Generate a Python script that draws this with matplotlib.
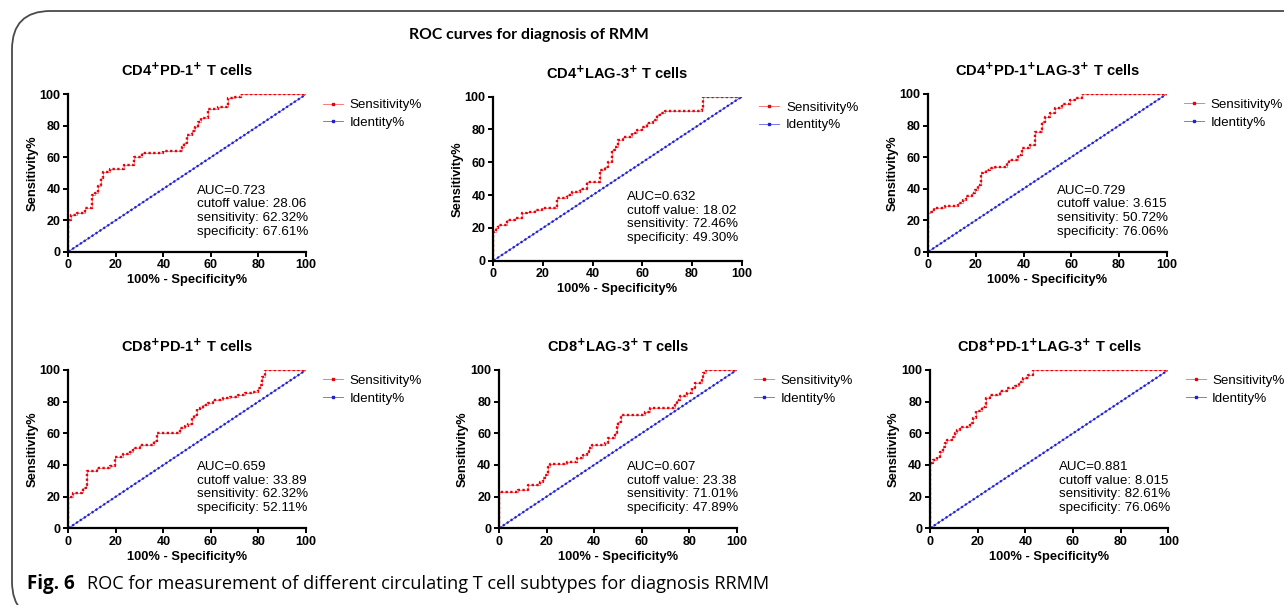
import matplotlib
matplotlib.use("Agg")
import matplotlib.pyplot as plt
from matplotlib.lines import Line2D
from matplotlib.patches import FancyBboxPatch

plt.rcParams["font.family"] = ["Liberation Sans", "DejaVu Sans"]

W, H = 1284, 605

# ---- data ----
titles = [
    "CD4$^{\\mathbf{+}}$PD-1$^{\\mathbf{+}}$ T cells",
    "CD4$^{\\mathbf{+}}$LAG-3$^{\\mathbf{+}}$ T cells",
    "CD4$^{\\mathbf{+}}$PD-1$^{\\mathbf{+}}$LAG-3$^{\\mathbf{+}}$ T cells",
    "CD8$^{\\mathbf{+}}$PD-1$^{\\mathbf{+}}$ T cells",
    "CD8$^{\\mathbf{+}}$LAG-3$^{\\mathbf{+}}$ T cells",
    "CD8$^{\\mathbf{+}}$PD-1$^{\\mathbf{+}}$LAG-3$^{\\mathbf{+}}$ T cells",
]
auc = ["0.723", "0.632", "0.729", "0.659", "0.607", "0.881"]
cutoff = ["28.06", "18.02", "3.615", "33.89", "23.38", "8.015"]
sens = ["62.32%", "72.46%", "50.72%", "62.32%", "71.01%", "82.61%"]
spec = ["67.61%", "49.30%", "76.06%", "52.11%", "47.89%", "76.06%"]

# ROC staircase vertices (100% - specificity, sensitivity), steps-post
cd4_pd1_x = [0, 0, 1.0, 3.8, 7.0, 9.8, 11.2, 12.6, 13.7, 14.7, 17.5, 23.4, 27.6, 30.9,
             40.0, 47.7, 48.5, 50.0, 52.0, 53.3, 54.7, 56.0, 58.9, 63.0, 67.3, 70.0, 72.5, 100]
cd4_pd1_y = [0, 20.0, 23.3, 24.4, 27.5, 36.0, 37.5, 41.7, 46.6, 50.8, 52.3, 55.0, 60.0, 62.5,
             64.2, 66.7, 68.9, 74.0, 77.0, 79.4, 82.6, 84.7, 90.5, 91.7, 97.5, 98.5, 100, 100]

cd4_lag3_x = [0, 0, 0.9, 2.0, 5.4, 8.7, 11.4, 13.4, 16.8, 19.5, 25.5, 29.5, 31.5, 35.0, 37.6,
              43.0, 45.0, 46.3, 47.7, 49.0, 50.3, 52.3, 55.7, 57.7, 59.7, 61.7, 64.4, 65.8,
              67.0, 69.0, 84.0, 84.6, 100]
cd4_lag3_y = [0, 17.7, 19.7, 22.0, 24.8, 26.0, 28.9, 29.9, 30.9, 32.3, 38.0, 40.0, 42.0, 44.0,
              48.2, 55.3, 57.3, 60.4, 67.5, 69.5, 73.6, 75.6, 77.6, 79.7, 81.7, 83.7, 85.8,
              88.8, 90.0, 91.3, 93.0, 100, 100]

cd4_pd1_lag3_x = [0, 0, 0.7, 1.4, 2.4, 7.0, 12.6, 14.7, 15.8, 18.2, 19.6, 21.0, 22.0, 23.0,
                  24.2, 25.9, 28.0, 32.9, 33.8, 37.8, 39.2, 42.7, 44.8, 47.6, 49.0, 51.0,
                  53.1, 55.9, 59.4, 61.5, 64.3, 100]
cd4_pd1_lag3_y = [0, 24.3, 25.4, 26.4, 27.5, 29.2, 30.7, 32.8, 35.3, 37.0, 39.1, 42.3, 49.7,
                  50.7, 51.8, 52.9, 53.9, 57.1, 58.1, 61.3, 65.5, 67.7, 76.1, 82.5, 85.6, 87.7,
                  90.9, 93.4, 96.2, 97.3, 100, 100]

cd8_pd1_x = [0, 0, 2.1, 5.6, 6.3, 7.4, 8.0, 11.9, 17.5, 19.6, 23.1, 25.9, 27.3, 30.2, 36.0,
             37.2, 47.0, 49.1, 50.5, 51.9, 53.0, 54.0, 55.4, 56.8, 58.9, 61.0, 65.2, 68.0,
             71.5, 74.3, 77.8, 80.0, 80.6, 81.3, 82.7, 100]
cd8_pd1_y = [0, 20.0, 22.1, 23.2, 25.3, 27.4, 36.4, 37.9, 39.4, 45.3, 46.7, 48.2, 50.9, 52.4,
             55.4, 60.0, 63.2, 64.6, 65.9, 69.5, 71.6, 75.2, 75.8, 77.9, 79.0, 81.0, 82.1,
             83.2, 84.2, 85.3, 86.3, 88.4, 90.5, 95.8, 100, 100]

cd8_lag3_x = [0, 0, 8.1, 12.3, 17.3, 18.7, 19.4, 20.8, 21.5, 28.5, 32.7, 35.5, 36.9, 38.0,
              39.0, 44.6, 46.0, 48.8, 49.5, 50.2, 51.2, 61.4, 63.5, 74.0, 75.0, 76.2, 79.0,
              81.0, 82.5, 85.3, 86.0, 87.1, 100]
cd8_lag3_y = [0, 23.2, 24.4, 27.4, 29.5, 31.6, 33.7, 38.9, 40.6, 42.1, 44.2, 46.3, 48.4, 50.5,
              52.6, 54.1, 56.8, 60.0, 64.2, 67.4, 71.6, 73.7, 75.8, 78.9, 81.0, 83.6, 85.3,
              88.4, 91.6, 95.8, 97.9, 100, 100]

cd8_pd1_lag3_x = [0, 0, 1.1, 2.8, 4.2, 5.3, 6.3, 7.3, 9.1, 10.5, 11.5, 12.6, 16.8, 18.2, 19.3,
                  21.7, 23.5, 25.2, 29.4, 32.2, 35.7, 37.5, 39.2, 41.3, 43.4, 100]
cd8_pd1_lag3_y = [0, 41.0, 43.2, 45.3, 48.4, 51.6, 53.7, 55.8, 57.9, 60.0, 62.1, 64.2, 66.3,
                  69.5, 74.3, 76.8, 82.1, 84.2, 86.9, 88.4, 89.9, 92.6, 94.7, 96.8, 100, 100]

roc_x = [cd4_pd1_x, cd4_lag3_x, cd4_pd1_lag3_x, cd8_pd1_x, cd8_lag3_x, cd8_pd1_lag3_x]
roc_y = [cd4_pd1_y, cd4_lag3_y, cd4_pd1_lag3_y, cd8_pd1_y, cd8_lag3_y, cd8_pd1_lag3_y]
identity = [0, 100]
ticks = [0, 20, 40, 60, 80, 100]

# axes boxes in pixels: left, right, top, bottom
boxes = [
    (68.3, 306.0, 94.3, 251.7),
    (493.3, 741.7, 96.7, 260.7),
    (928.3, 1166.7, 94.0, 251.7),
    (68.3, 306.0, 370.0, 528.3),
    (499.0, 736.7, 370.0, 528.3),
    (930.0, 1168.3, 370.0, 528.3),
]

fig = plt.figure(figsize=(W / 100, H / 100), dpi=100)

# open rounded frame (bottom/right run off the image)
frame = FancyBboxPatch((12 / W, 1 - 620 / H), 1320 / W, 609 / H,
                       boxstyle="round,pad=0,rounding_size=0.03",
                       transform=fig.transFigure, fill=False,
                       edgecolor="#4a4a4a", linewidth=1.3, mutation_aspect=W / H)
fig.patches.append(frame)

fig.text(529 / W, 1 - 35 / H, "ROC curves for diagnosis of RMM", ha="center", va="center",
         fontsize=11.3, fontweight="bold", family=["Lato", "DejaVu Sans"])

for i, (l, r, t, b) in enumerate(boxes):
    ax = fig.add_axes([l / W, 1 - b / H, (r - l) / W, (b - t) / H])
    ax.plot(identity, identity, color="#3030e0", lw=0.5)
    ax.plot(identity, identity, color="#2020d0", lw=1.6, linestyle=(0, (1, 1.1)))
    ax.plot(roc_x[i], roc_y[i], drawstyle="steps-post", color="#ff6060", lw=0.5)
    ax.plot(roc_x[i], roc_y[i], drawstyle="steps-post", color="#e8000b", lw=1.7,
            linestyle=(0, (1, 1.0)))
    ax.set_xlim(0, 100)
    ax.set_ylim(0, 100)
    ax.set_xticks(ticks)
    ax.set_yticks(ticks)
    for s in ("top", "right"):
        ax.spines[s].set_visible(False)
    for s in ("left", "bottom"):
        ax.spines[s].set_linewidth(1.6)
    ax.tick_params(width=1.4, length=3.5, labelsize=9, pad=2)
    for lab in ax.get_xticklabels() + ax.get_yticklabels():
        lab.set_fontweight("bold")
    ax.set_xlabel("100% - Specificity%", fontsize=9.3, fontweight="bold", labelpad=2)
    ax.set_ylabel("Sensitivity%", fontsize=9.3, fontweight="bold", labelpad=1)
    ax.set_title(titles[i], fontsize=10.5, fontweight="bold", pad=13)
    ax.text(54, 42.5, f"AUC={auc[i]}\ncutoff value: {cutoff[i]}\nsensitivity: {sens[i]}\n"
            f"specificity: {spec[i]}", fontsize=9.6, va="top", ha="left", linespacing=1.18)
    handles = [
        Line2D([], [], color="#ff6060", lw=0.6, marker="s", markersize=1.6,
               markerfacecolor="#e8000b", markeredgecolor="#e8000b"),
        Line2D([], [], color="#6060f0", lw=0.6, marker="s", markersize=1.6,
               markerfacecolor="#2020d0", markeredgecolor="#2020d0"),
    ]
    ax.legend(handles, ["Sensitivity%", "Identity%"], loc="upper left",
              bbox_to_anchor=(1.05, 1.005), frameon=False, fontsize=9.6,
              handlelength=1.5, handletextpad=0.5, labelspacing=0.4, borderaxespad=0)

fig.text(27 / W, 1 - 584 / H, "Fig. 6", ha="left", va="center", fontsize=13.5,
         fontweight="bold", family=["Open Sans", "DejaVu Sans"])
fig.text(87 / W, 1 - 584 / H,
         "ROC for measurement of different circulating T cell subtypes for diagnosis RRMM",
         ha="left", va="center", fontsize=13.1, family=["Open Sans", "DejaVu Sans"])

fig.savefig("out.png", dpi=100)
